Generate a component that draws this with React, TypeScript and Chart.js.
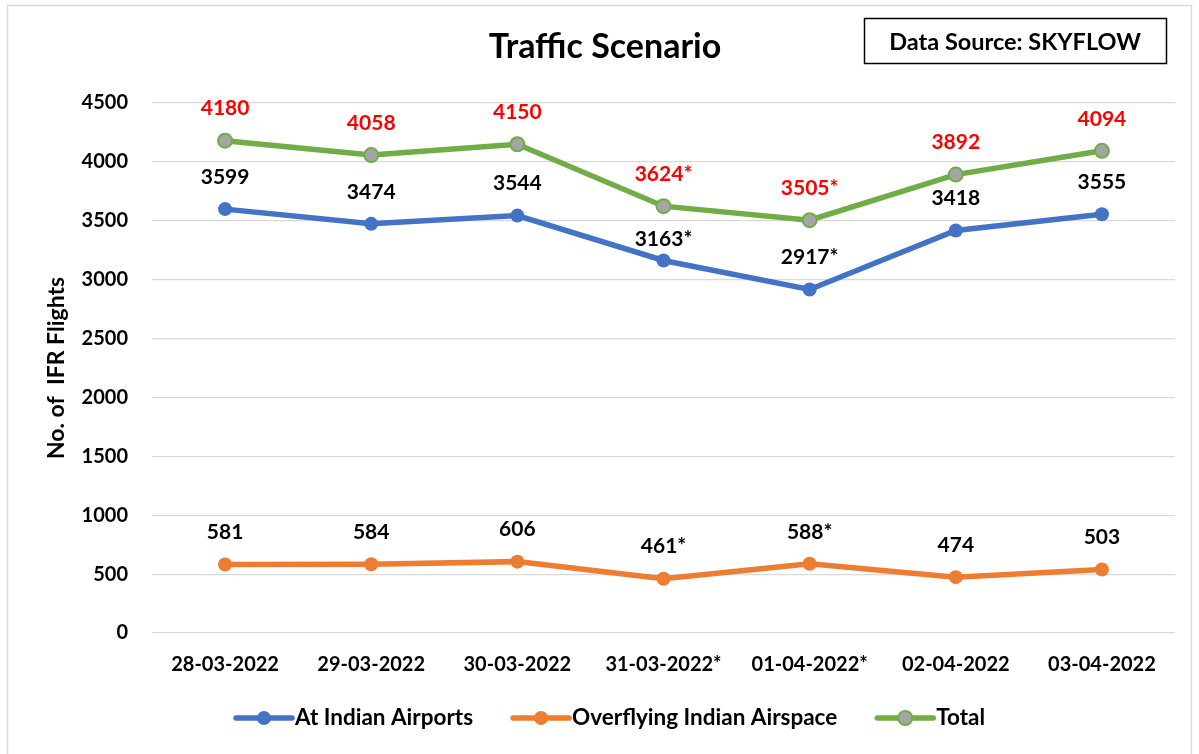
import React, { useEffect, useRef } from "react";
import { Chart, registerables } from "chart.js";

Chart.register(...registerables);

const categories = [
  "28-03-2022",
  "29-03-2022",
  "30-03-2022",
  "31-03-2022*",
  "01-04-2022*",
  "02-04-2022",
  "03-04-2022",
];
const airportValues = [3599, 3474, 3544, 3163, 2917, 3418, 3555];
const airportLabels = ["3599", "3474", "3544", "3163*", "2917*", "3418", "3555"];
const overflyValues = [581, 584, 606, 461, 588, 474, 539];
const overflyLabels = ["581", "584", "606", "461*", "588*", "474", "503"];
const totalValues = [4180, 4058, 4150, 3624, 3505, 3892, 4094];
const totalLabels = ["4180", "4058", "4150", "3624*", "3505*", "3892", "4094"];
const yMin = 0;
const yMax = 4500;
const yStep = 500;

const seriesNames = ["At Indian Airports", "Overflying Indian Airspace", "Total"];

const FONT = "Lato, 'DejaVu Sans', sans-serif";
const W = "bold";
const BLUE = "#4472C4";
const ORANGE = "#ED7D31";
const GREEN = "#70AD47";
const GRAY = "#A5A5A5";

const labelSets = [
  { labels: airportLabels, color: "#000000" },
  { labels: overflyLabels, color: "#000000" },
  { labels: totalLabels, color: "#FF0000" },
];

const overlayPlugin = {
  id: "overlay",
  afterDatasetsDraw(chart: any) {
    const ctx = chart.ctx;
    ctx.save();
    ctx.font = `${W} 21px ${FONT}`;
    ctx.textAlign = "center";
    ctx.textBaseline = "middle";
    labelSets.forEach((set, i) => {
      const meta = chart.getDatasetMeta(i);
      ctx.fillStyle = set.color;
      meta.data.forEach((pt: any, j: number) => {
        const off = i === 0 && j === 3 ? 21 : 32;
        ctx.fillText(set.labels[j], pt.x, pt.y - off);
      });
    });
    ctx.restore();
  },
  afterDraw(chart: any) {
    const ctx = chart.ctx;
    ctx.save();
    // outer border
    ctx.strokeStyle = "#D9D9D9";
    ctx.lineWidth = 1.5;
    ctx.strokeRect(7.5, 5.5, 1184, 760);

    // title
    ctx.fillStyle = "#000";
    ctx.font = `${W} 34px ${FONT}`;
    ctx.textAlign = "center";
    ctx.textBaseline = "middle";
    ctx.fillText("Traffic Scenario", 605, 47);

    // data source box
    ctx.lineWidth = 1.5;
    ctx.strokeStyle = "#000";
    ctx.strokeRect(864.5, 18.5, 302, 45);
    ctx.font = `${W} 23.5px ${FONT}`;
    ctx.fillText("Data Source: SKYFLOW", 1015, 42);

    // legend
    const items = [
      { name: seriesNames[0], line: BLUE, fill: BLUE },
      { name: seriesNames[1], line: ORANGE, fill: ORANGE },
      { name: seriesNames[2], line: GREEN, fill: GRAY },
    ];
    let x = 236;
    const y = 718;
    ctx.font = `${W} 22.5px ${FONT}`;
    ctx.textAlign = "left";
    items.forEach((it) => {
      ctx.strokeStyle = it.line;
      ctx.lineWidth = 5.5;
      ctx.lineCap = "round";
      ctx.beginPath();
      ctx.moveTo(x, y);
      ctx.lineTo(x + 56, y);
      ctx.stroke();
      ctx.beginPath();
      ctx.arc(x + 28, y, 7, 0, Math.PI * 2);
      ctx.fillStyle = it.fill;
      ctx.fill();
      if (it.fill !== it.line) {
        ctx.lineWidth = 2;
        ctx.strokeStyle = it.line;
        ctx.stroke();
      }
      ctx.fillStyle = "#000";
      const tx = x + 59;
      ctx.fillText(it.name, tx, y);
      x = tx + ctx.measureText(it.name).width + 40;
    });
    ctx.restore();
  },
};

export default function App() {
  const canvasRef = useRef<HTMLCanvasElement | null>(null);

  useEffect(() => {
    const canvas = canvasRef.current;
    if (!canvas) return;
    const chart = new Chart(canvas, {
      type: "line",
      data: {
        labels: categories,
        datasets: [
          {
            label: seriesNames[0],
            data: airportValues,
            borderColor: BLUE,
            backgroundColor: BLUE,
            borderWidth: 5.5,
            pointRadius: 7,
            pointBackgroundColor: BLUE,
            pointBorderColor: BLUE,
            pointBorderWidth: 0,
            tension: 0,
          },
          {
            label: seriesNames[1],
            data: overflyValues,
            borderColor: ORANGE,
            backgroundColor: ORANGE,
            borderWidth: 5.5,
            pointRadius: 7,
            pointBackgroundColor: ORANGE,
            pointBorderColor: ORANGE,
            pointBorderWidth: 0,
            tension: 0,
          },
          {
            label: seriesNames[2],
            data: totalValues,
            borderColor: GREEN,
            backgroundColor: GRAY,
            borderWidth: 5.5,
            pointRadius: 7,
            pointBackgroundColor: GRAY,
            pointBorderColor: GREEN,
            pointBorderWidth: 2,
            tension: 0,
          },
        ],
      },
      options: {
        responsive: false,
        animation: false,
        events: [],
        layout: { padding: { left: 40, right: 24, top: 103, bottom: 51 } },
        plugins: {
          legend: { display: false },
          title: { display: false },
          tooltip: { enabled: false },
        },
        scales: {
          x: {
            offset: true,
            grid: { display: false, drawTicks: false },
            border: { display: false },
            ticks: {
              color: "#000",
              font: { family: FONT, size: 20, weight: W },
              padding: 20,
              maxRotation: 0,
              autoSkip: false,
            },
            afterFit: (axis: any) => {
              axis.height = 70;
            },
          },
          y: {
            min: yMin,
            max: yMax,
            grid: { color: "#D9D9D9", lineWidth: 1.2, drawTicks: false },
            border: { display: false },
            ticks: {
              stepSize: yStep,
              color: "#000",
              font: { family: FONT, size: 20, weight: W },
              padding: 24,
              callback: (v: any) => String(v),
            },
            title: {
              display: true,
              text: "No. of  IFR Flights",
              color: "#000",
              font: { family: FONT, size: 23, weight: W },
              padding: { top: 3, bottom: 0 },
            },
            afterFit: (axis: any) => {
              axis.width = 112;
            },
          },
        },
      },
      plugins: [overlayPlugin],
    });
    return () => chart.destroy();
  }, []);

  return (
    <div style={{ position: "absolute", left: 0, top: 0, width: 1199, height: 754, background: "#fff" }}>
      <canvas ref={canvasRef} width={1199} height={754} style={{ display: "block" }} />
    </div>
  );
}
